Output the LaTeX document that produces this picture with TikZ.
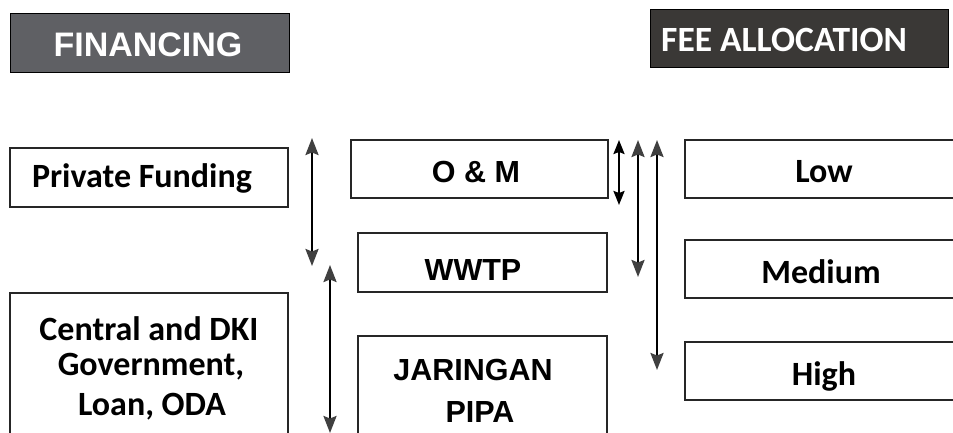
\documentclass[tikz,border=0pt]{standalone}
\usepackage{fontspec}
\setmainfont{Liberation Sans}
\newfontfamily\apt{Carlito}
\usetikzlibrary{arrows.meta}
\definecolor{fingray}{HTML}{5F6064}
\definecolor{feegray}{HTML}{3A3836}
\definecolor{arrgray}{HTML}{404040}
\tikzset{
  box/.style={draw=black!85, line width=1.2pt, fill=white},
  arialtxt/.style={font=\fontsize{30.5}{34}\selectfont\bfseries, text=black, inner sep=0pt},
  apttxt/.style={font=\apt\fontsize{34}{36}\selectfont\bfseries, text=black, inner sep=0pt},
  dbl/.style={black, line width=2.4pt, {Stealth[width=13pt,length=17pt,inset=2.5pt,color=arrgray]}-{Stealth[width=13pt,length=17pt,inset=2.5pt,color=arrgray]}},
  dblshort/.style={black, line width=2.2pt, {Stealth[width=11pt,length=14pt,inset=2pt]}-{Stealth[width=11pt,length=14pt,inset=2pt]}},
}
\begin{document}
\begin{tikzpicture}[x=1pt,y=-1pt]
\useasboundingbox (0,0) rectangle (953,433);
\clip (0,0) rectangle (953,433);
% header boxes
\draw[fill=fingray, draw=black, line width=1pt] (10,14) rectangle (289,73);
\node[font=\fontsize{34}{36}\selectfont\bfseries, text=white, inner sep=0pt] (fin) at (148,45) {FINANCING};
\draw[fill=feegray, draw=black, line width=1pt] (650,10) rectangle (948,68);
\node[font=\apt\fontsize{35.5}{38}\selectfont\bfseries, text=white, inner sep=0pt, anchor=west] (fee) at (661,40) {FEE ALLOCATION};
% left column
\draw[box] (10,148) rectangle (288,207);
\node[apttxt] (pf) at (142,178) {Private Funding};
\draw[box] (10,293) rectangle (288,440);
\node[apttxt] (c1) at (149,329) {Central and DKI};
\node[apttxt] (c2) at (151,367) {Government,};
\node[apttxt] (c3) at (152,407) {Loan, ODA};
% middle column
\draw[box] (351,140) rectangle (608,198);
\node[arialtxt] (om) at (476,172) {O \& M};
\draw[box] (358,233) rectangle (607,292);
\node[arialtxt] (ww) at (473,270) {WWTP};
\draw[box] (358,336) rectangle (607,440);
\node[arialtxt] (j1) at (473,370) {JARINGAN};
\node[arialtxt] (j2) at (480,412) {PIPA};
% right column
\draw[box] (685,140) rectangle (960,198);
\node[apttxt] (lo) at (824,172) {Low};
\draw[box] (685,240) rectangle (960,298);
\node[apttxt] (me) at (821,272) {Medium};
\draw[box] (685,342) rectangle (960,400);
\node[apttxt] (hi) at (824,376) {High};
% arrows
\coordinate (a1t) at (312,138); \coordinate (a1b) at (312,266);
\coordinate (a2t) at (330,265); \coordinate (a2b) at (330,433);
\coordinate (a3t) at (619,140); \coordinate (a3b) at (619,205);
\coordinate (a4t) at (638,140); \coordinate (a4b) at (638,277);
\coordinate (a5t) at (657,140); \coordinate (a5b) at (657,370);
\draw[dbl] (a1t) -- (a1b);
\draw[dbl] (a2t) -- (a2b);
\draw[dblshort] (a3t) -- (a3b);
\draw[dbl] (a4t) -- (a4b);
\draw[dbl] (a5t) -- (a5b);
\end{tikzpicture}
\end{document}
